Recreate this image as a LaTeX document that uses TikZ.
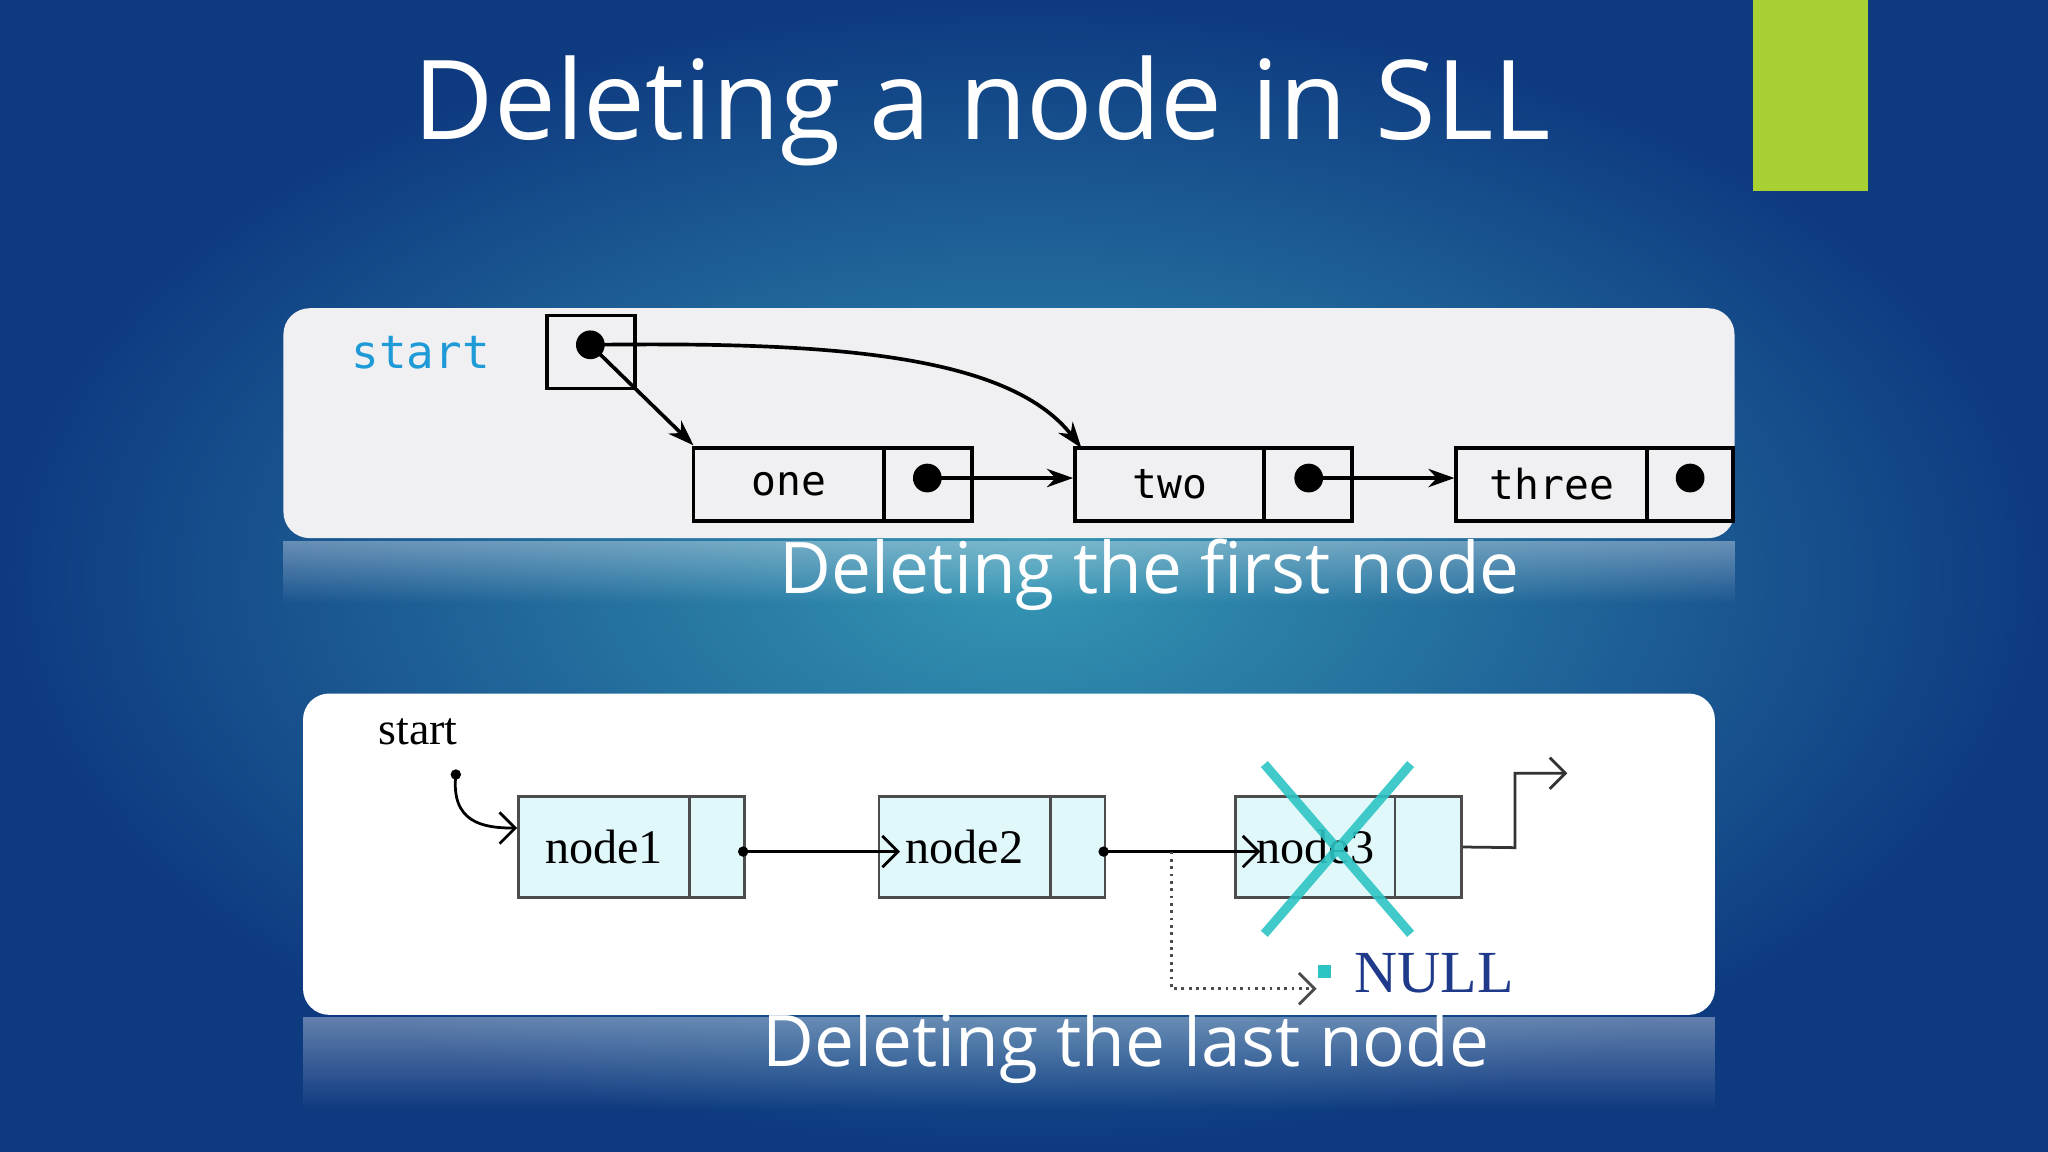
\documentclass[tikz,border=0pt]{standalone}
\usepackage{fontspec}
\setmainfont{Open Sans}
\newfontfamily\mono{DejaVu Sans Mono}
\newfontfamily\serifx{Liberation Serif}
\usetikzlibrary{arrows.meta,fadings}
\definecolor{bgin}{HTML}{3496B4}
\definecolor{bgout}{HTML}{0E3A80}
\definecolor{lime}{HTML}{A8D032}
\definecolor{cellc}{HTML}{E0F8FA}
\definecolor{xcol}{HTML}{2EC4C4}
\definecolor{startc}{HTML}{1E9BD7}
\definecolor{nullc}{HTML}{1F3A8A}
\begin{document}
\begin{tikzpicture}[x=0.01cm,y=-0.01cm,
  captxt/.style={text=white,font=\fontsize{15.5}{18}\selectfont},
  mcell/.style={draw=black,line width=0.8pt,minimum height=56*0.01cm,inner sep=0pt},
  scell/.style={draw=black!70,fill=cellc,line width=0.6pt,minimum height=77*0.01cm,inner sep=0pt},
  dot/.style={circle,fill=black,inner sep=0pt,minimum size=0.22cm},
  sdot/.style={circle,fill=black,inner sep=0pt,minimum size=0.08cm},
  arr/.style={-{Stealth[length=0.2cm,width=0.14cm]},line width=0.8pt},
  sarr/.style={-{Straight Barb[length=0.12cm]},line width=0.6pt}]
\useasboundingbox (0,0) rectangle (1568,882);
\shade[inner color=bgin,outer color=bgout] (0,0) rectangle (1568,882);
\fill[lime] (1342,0) rectangle (1430,146);
\node[text=white,font=\fontsize{24}{28}\selectfont] (title) at (752,85) {Deleting a node in SLL};
% panel 1
\fill[white,opacity=0.35,path fading=south] (217,414) rectangle (1328,462);
\fill[rounded corners=0.2cm,fill={rgb,255:red,240;green,240;blue,242}] (217,236) rectangle (1328,412);
\node[text=startc,font=\mono\fontsize{10}{12}\selectfont] (st1) at (322,270) {start};
\node[mcell,minimum width=67*0.01cm] (sb) at (452.5,269.5) {};
\node[dot] (sd) at (452,264) {};
\node[mcell,minimum width=146*0.01cm,font=\mono\fontsize{9}{11}\selectfont] (one) at (604,371) {one};
\node[mcell,minimum width=67*0.01cm] (onep) at (710.5,371) {};
\node[dot] (oned) at (710,366) {};
\node[mcell,minimum width=145*0.01cm,font=\mono\fontsize{9}{11}\selectfont] (two) at (895.5,371) {two};
\node[mcell,minimum width=67*0.01cm] (twop) at (1001.5,371) {};
\node[dot] (twod) at (1002,366) {};
\node[mcell,minimum width=146*0.01cm,font=\mono\fontsize{9}{11}\selectfont] (three) at (1188,371) {three};
\node[mcell,minimum width=66*0.01cm] (threep) at (1294,371) {};
\node[dot] (threed) at (1294,366) {};
\coordinate (t1) at (531,341);
\coordinate (t2) at (828,343);
\draw[arr] (sd.center) -- (t1);
\draw[arr] (sd.center) .. controls (620,262) and (770,268) .. (t2);
\draw[arr] (oned.center) -- (two.west |- oned);
\draw[arr] (twod.center) -- (three.west |- twod);
\node[captxt] (c1) at (880,440) {Deleting the first node};
% panel 2
\fill[white,opacity=0.35,path fading=south] (232,779) rectangle (1313,850);
\fill[white,rounded corners=0.2cm] (232,531) rectangle (1313,777);
\node[font=\serifx\fontsize{10}{12}\selectfont] (st2) at (320,560) {start};
\node[sdot] (s2d) at (349,593) {};
\node[scell,minimum width=131*0.01cm,font=\serifx\fontsize{10.5}{12}\selectfont] (n1) at (462.5,648.5) {node1};
\node[scell,minimum width=42*0.01cm] (n1p) at (549,648.5) {};
\node[scell,minimum width=131*0.01cm,font=\serifx\fontsize{10.5}{12}\selectfont] (n2) at (738.5,648.5) {node2};
\node[scell,minimum width=42*0.01cm] (n2p) at (825,648.5) {};
\node[scell,minimum width=122*0.01cm,font=\serifx\fontsize{10.5}{12}\selectfont] (n3) at (1007,648.5) {node3};
\node[scell,minimum width=51*0.01cm] (n3p) at (1093.5,648.5) {};
\node[sdot] (d1) at (569,652) {};
\node[sdot] (d2) at (845,652) {};
\coordinate (a2) at (689,652);
\coordinate (a3) at (965,652);
\coordinate (br) at (897,652);
\coordinate (nl) at (1008,757);
\coordinate (ex) at (1200,592);
\draw[sarr] (s2d.center) .. controls (345,630) and (370,634) .. (n1.west |- 0,634);
\draw[sarr] (d1.center) -- (a2);
\draw[sarr] (d2.center) -- (a3);
\draw[sarr,densely dotted,black!70] (br) |- (nl);
\draw[sarr,black!80] (n3p.east) -- (1160,649) |- (ex);
\draw[xcol,line width=2pt,opacity=0.9] (968,585) -- (1080,715) (1080,585) -- (968,715);
\fill[xcol] (1009,739) rectangle (1019,749);
\node[text=nullc,font=\serifx\fontsize{13}{15}\selectfont] (null) at (1098,745) {NULL};
\node[captxt] (c2) at (862,802) {Deleting the last node};
\end{tikzpicture}
\end{document}
